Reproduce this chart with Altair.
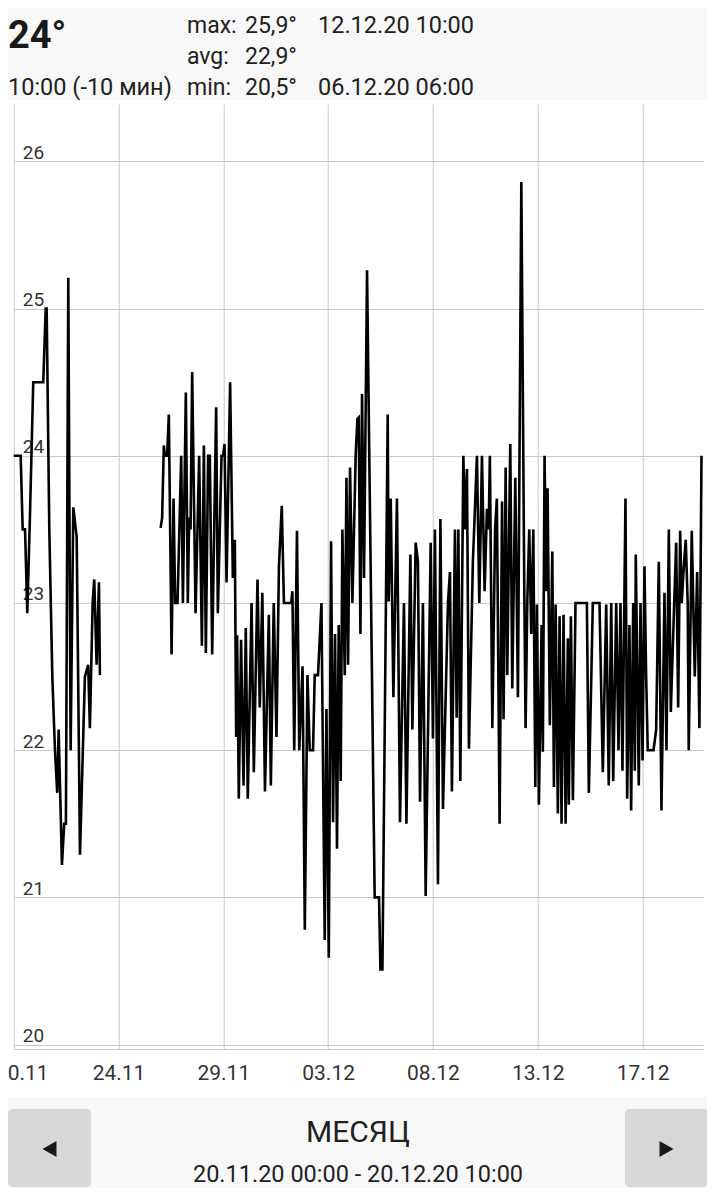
import json
import altair as alt
import pandas as pd

# ---------------- data ----------------
# hours since 20.11.20 00:00 and temperature, first block (before the gap)
hours_a = [0.0, 7.4, 9.5, 12.0, 14.4, 17.2, 20.7, 31.3, 33.9, 34.9,
           37.7, 40.9, 43.7, 46.1, 47.6, 51.1, 53.5, 55.3, 57.8, 60.3,
           63.1, 66.7, 70.2, 75.4, 78.9, 80.7, 83.6, 85.3, 87.8, 90.3,
           91.3]
temps_a = [24.0, 24.0, 23.5, 23.5, 22.93, 23.59, 24.5, 24.5, 25.0, 25.0,
           23.5, 22.5, 22.0, 21.71, 22.14, 21.22, 21.5, 21.5, 25.21, 22.0,
           23.65, 23.45, 21.29, 22.5, 22.58, 22.15, 23.0, 23.16, 22.58, 23.14,
           22.51]

# second block (after the gap)
hours_b = [155.6, 157.2, 159.0, 160.1, 162.5, 164.3, 167.2, 169.3, 171.0, 173.5,
           177.4, 179.2, 182.3, 184.4, 185.8, 187.3, 189.0, 192.6, 196.4, 199.3,
           201.4, 203.5, 205.9, 207.7, 210.2, 214.4, 216.2, 220.1, 221.8, 223.3,
           225.4, 229.2, 232.1, 233.1, 234.2, 235.6, 236.6, 238.4, 240.8, 243.4,
           245.8, 247.9, 251.9, 254.3, 258.2, 260.6, 263.3, 266.1, 270.2, 272.3,
           275.4, 278.3, 280.9, 283.9, 286.2, 293.8, 295.2, 297.1, 300.0, 302.4,
           305.9, 308.3, 311.1, 313.5, 317.0, 318.8, 322.3, 325.9, 329.4, 331.2,
           333.7, 336.1, 338.2, 340.3, 342.4, 344.2, 346.3, 348.1, 350.6, 352.4,
           354.1, 356.2, 358.7, 362.2, 364.0, 365.4, 367.2, 368.9, 371.0, 374.2,
           381.3, 382.3, 386.9, 388.4, 390.5, 396.1, 397.1, 399.3, 402.1, 405.9,
           409.1, 413.3, 415.9, 420.1, 422.2, 425.7, 428.1, 430.3, 433.4, 436.3,
           441.6, 444.0, 446.1, 449.3, 451.9, 454.6, 459.9, 462.0, 464.1, 467.3,
           469.1, 470.9, 473.0, 476.2, 477.9, 480.0, 482.1, 486.3, 490.6, 493.1,
           495.9, 498.7, 501.2, 503.0, 504.3, 506.9, 509.8, 511.7, 514.6, 517.2,
           518.8, 521.0, 522.7, 525.9, 528.0, 531.2, 534.0, 537.6, 540.7, 542.1,
           543.9, 546.0, 548.1, 550.3, 552.4, 554.1, 556.2, 559.1, 560.4, 562.2,
           564.0, 565.4, 567.8, 570.4, 572.1, 573.9, 576.3, 578.1, 580.2, 582.3,
           584.5, 586.9, 587.9, 590.1, 592.2, 595.0, 607.0, 609.1, 611.7, 613.3,
           620.4, 623.9, 627.5, 630.2, 632.8, 634.9, 638.1, 640.5, 642.6, 644.7,
           647.9, 649.7, 652.1, 653.9, 656.1, 657.8, 658.8, 662.0, 663.8, 666.0,
           668.0, 669.8, 671.5, 677.6, 680.4, 683.2, 686.0, 689.2, 691.3, 693.8,
           695.9, 699.5, 701.6, 703.7, 705.8, 707.5, 709.3, 711.7, 713.8, 714.9,
           718.1, 721.3, 723.8, 726.2, 728.4]
temps_b = [23.51, 23.58, 24.07, 24.0, 24.0, 24.28, 22.65, 23.71, 23.0, 23.0,
           24.0, 23.0, 24.43, 23.0, 23.58, 23.5, 24.57, 22.93, 24.0, 22.71,
           24.07, 22.66, 24.0, 24.0, 22.65, 24.33, 22.93, 24.0, 24.0, 24.08,
           23.14, 24.5, 23.17, 23.42, 23.42, 22.09, 22.78, 21.67, 22.75, 21.76,
           22.83, 21.67, 23.0, 21.85, 23.16, 22.29, 23.07, 21.72, 22.92, 21.76,
           23.0, 22.09, 23.25, 23.66, 23.0, 23.0, 23.08, 22.0, 23.49, 22.0,
           22.57, 20.78, 22.51, 22.0, 22.0, 22.51, 22.51, 23.0, 20.71, 22.28,
           20.59, 23.42, 21.51, 22.79, 21.33, 22.85, 21.79, 23.5, 22.51, 23.85,
           22.58, 23.92, 23.0, 24.01, 24.25, 24.26, 22.79, 24.42, 23.17, 25.26,
           21.51, 21.0, 21.0, 20.51, 20.51, 24.28, 23.01, 23.71, 22.36, 23.71,
           21.51, 23.0, 21.5, 23.33, 22.14, 23.41, 23.28, 21.65, 23.0, 21.01,
           23.41, 22.08, 23.5, 21.09, 23.57, 21.6, 23.0, 23.21, 21.72, 23.5,
           22.22, 23.5, 21.79, 24.0, 23.5, 23.91, 22.01, 23.28, 24.0, 23.0,
           24.0, 23.08, 23.64, 23.5, 24.0, 22.15, 23.5, 23.71, 21.5, 23.69,
           22.21, 23.92, 22.51, 24.08, 22.42, 23.85, 22.36, 25.86, 23.11, 22.15,
           23.0, 23.5, 22.79, 23.5, 21.75, 22.99, 21.63, 22.85, 21.99, 24.0,
           23.08, 23.78, 22.17, 23.35, 21.75, 22.99, 21.57, 22.91, 21.5, 22.92,
           21.5, 22.76, 21.63, 22.91, 21.66, 23.0, 23.0, 21.71, 22.49, 23.0,
           23.0, 21.85, 22.99, 21.76, 23.0, 21.79, 23.0, 22.0, 23.0, 21.86,
           23.71, 21.67, 22.85, 21.59, 23.0, 21.86, 23.33, 21.76, 23.0, 21.93,
           23.25, 22.5, 22.0, 22.0, 22.14, 23.28, 21.59, 23.07, 22.0, 23.5,
           22.26, 23.0, 23.41, 22.29, 23.49, 23.0, 23.21, 23.43, 23.0, 22.0,
           23.49, 22.5, 23.21, 22.15, 24.0]

tick_hours = [0, 111, 222, 333, 444, 555, 666]
tick_labels = ["20.11", "24.11", "29.11", "03.12", "08.12", "13.12", "17.12"]
y_ticks = [20, 21, 22, 23, 24, 25, 26]

header_big = "24°"
header_sub = "10:00 (-10 мин)"
stat_names = ["max:", "avg:", "min:"]
stat_values = ["25,9°", "22,9°", "20,5°"]
stat_dates = ["12.12.20 10:00", "", "06.12.20 06:00"]
footer_title = "МЕСЯЦ"
footer_range = "20.11.20 00:00 - 20.12.20 10:00"

# ---------------- layout ----------------
SVG_LEFT, SVG_TOP = 8, 8      # page position of the drawing
W, H = 689.3, 945
OX, OY = 13.7, 104            # page position of the plot origin
TOTAL_W, TOTAL_H = 699, 1180
PAD = {"left": OX - SVG_LEFT, "top": OY - SVG_TOP,
       "right": TOTAL_W - (OX - SVG_LEFT) - W,
       "bottom": TOTAL_H - (OY - SVG_TOP) - H}
FONT = "Roboto"
GRID = "#c8c8c8"
PAGE_BOTTOM = SVG_TOP + TOTAL_H


def px(x):
    return x - OX


def py(y):
    return y - OY


one = pd.DataFrame({"k": [0]})


def rect(x1, y1, x2, y2, color, radius=0, opacity=1.0):
    return alt.Chart(one).mark_rect(color=color, cornerRadius=radius, opacity=opacity).encode(
        x=alt.value(px(x1)), x2=alt.value(px(x2)), y=alt.value(py(y1)), y2=alt.value(py(y2)))


def text(s, x, y, size, align="left", weight="normal", color="#212121"):
    return alt.Chart(one).mark_text(text=s, align=align, baseline="alphabetic", fontSize=size,
                                    font=FONT, fontWeight=weight, color=color).encode(
        x=alt.value(px(x)), y=alt.value(py(y)))


def tri(shape, x, y):
    return alt.Chart(one).mark_point(shape=shape, filled=True, size=260, color="#1a1a1a",
                                     opacity=1).encode(x=alt.value(px(x)), y=alt.value(py(y)))


df = pd.DataFrame({
    "h": hours_a + hours_b,
    "t": temps_a + temps_b,
    "seg": ["a"] * len(hours_a) + ["b"] * len(hours_b),
})

label_expr = f"{json.dumps(tick_labels)}[round(datum.value / 111)]"

line = alt.Chart(df).mark_line(color="black", strokeWidth=2.6).encode(
    x=alt.X("h:Q", scale=alt.Scale(domain=[0, 730], nice=False, zero=False),
            axis=alt.Axis(values=tick_hours, labelExpr=label_expr, title=None, grid=True,
                          gridColor=GRID, gridWidth=1, ticks=True, tickSize=0, tickOpacity=0,
                          domain=True, domainColor=GRID, domainWidth=1,
                          labelFont=FONT, labelFontSize=21, labelColor="#333333",
                          labelPadding=30, labelBaseline="alphabetic", labelFlush=False,
                          labelOverlap=False,
                          labelOffset={"condition": {"test": "datum.value === 0", "value": 8},
                                       "value": 0})),
    y=alt.Y("t:Q", scale=alt.Scale(domain=[19.97, 26.39], nice=False, zero=False),
            axis=alt.Axis(values=y_ticks, format="d", title=None, grid=True, gridColor=GRID,
                          gridWidth=1, ticks=True, tickSize=0, tickOpacity=0, domain=False,
                          labelFont=FONT, labelFontSize=19, labelColor="#333333",
                          labelAlign="left", labelPadding=-8.5, labelBaseline="alphabetic",
                          labelOffset=-3)),
    detail="seg:N",
)

layers = [
    rect(0, 0, 716, 100, "#f8f8f8"),
    rect(0, 1097, 716, PAGE_BOTTOM, "#f8f8f8"),
    rect(8, 1111, 91, 1187, "#c4c4c4", 4, 0.6),
    rect(8, 1109, 91, 1185, "#d6d7d7", 4),
    rect(625, 1111, 708, 1187, "#c4c4c4", 4, 0.6),
    rect(625, 1109, 708, 1185, "#d6d7d7", 4),
    tri("triangle-left", 49.5, 1149),
    tri("triangle-right", 666.5, 1149),
    line,
    text(header_big, 8, 48, 38, weight="bold", color="#1a1a1a"),
    text(header_sub, 8, 95, 23.5),
    text(footer_title, 358, 1142, 30, align="center"),
    text(footer_range, 358, 1182, 23.5, align="center"),
]
for i, yb in enumerate([33, 64, 95]):
    layers.append(text(stat_names[i], 187, yb, 23))
    layers.append(text(stat_values[i], 245, yb, 23))
    if stat_dates[i]:
        layers.append(text(stat_dates[i], 318, yb, 23.5))

chart = alt.layer(*layers).properties(
    width=W, height=H,
    autosize=alt.AutoSizeParams(type="none"),
    padding=PAD,
    background="white",
).configure_view(stroke=None)

chart.save("out.html", embed_options={"renderer": "svg", "actions": False})
